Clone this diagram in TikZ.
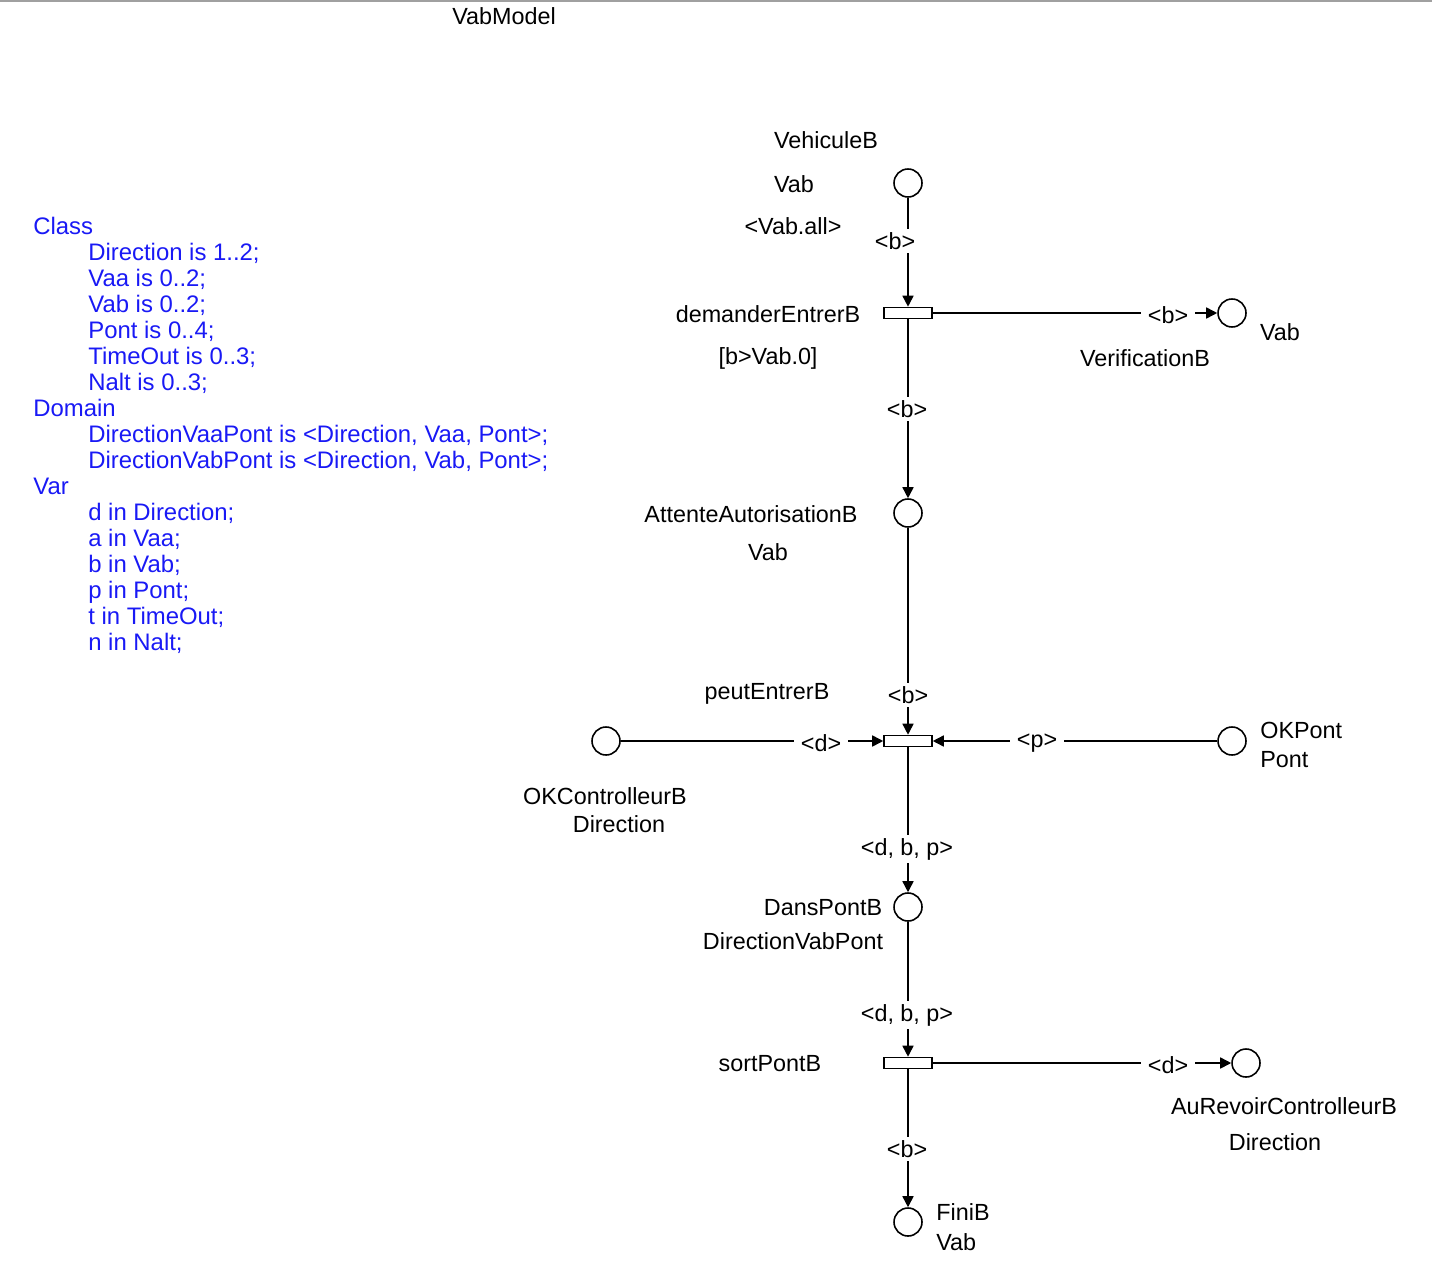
\documentclass[tikz,border=0pt]{standalone}
\usepackage{fontspec}
\setmainfont{Liberation Sans}
\usetikzlibrary{arrows.meta}

\definecolor{decl}{RGB}{25,25,245}
\definecolor{topline}{RGB}{160,160,160}

\tikzset{
	place/.style={circle,draw,line width=0.9pt,minimum size=0.56cm,inner sep=0pt},
	trans/.style={rectangle,draw,line width=0.9pt,minimum width=0.96cm,minimum height=0.22cm,inner sep=0pt},
	arc/.style={line width=0.9pt,-{Triangle[length=0.22cm,width=0.22cm]}},
	arclab/.style={fill=white,inner xsep=4pt,inner ysep=2pt},
	txt/.style={inner sep=0pt}
}

\begin{document}
\begin{tikzpicture}[x=0.02cm,y=-0.02cm,font=\fontsize{13.3}{15}\selectfont]
		\useasboundingbox (0,0) rectangle (1432,1270);
		\draw[topline,line width=1.2pt] (0,1) -- (1432,1) ;

		\node[txt] (title) at (504,16) {VabModel};

		% places
		\node[place] (vehic)  at ( 908, 183) {};
		\node[place] (verif)  at (1232, 313) {};
		\node[place] (attente) at ( 908, 513) {};
		\node[place] (okctrl) at ( 606, 741) {};
		\node[place] (okpont) at (1232, 741) {};
		\node[place] (dans)   at ( 908, 907) {};
		\node[place] (aurev)  at (1246,1063) {};
		\node[place] (fini)   at ( 908,1222) {};

		% transitions
		\node[trans] (demander) at (908, 313) {};
		\node[trans] (peut)     at (908, 741) {};
		\node[trans] (sort)     at (908,1063) {};

		% place and transition texts
		\node[txt] at (826, 140) {VehiculeB};
		\node[txt] at (794, 184) {Vab};
		\node[txt] at (793, 226) {<Vab.all>};
		\node[txt] at (768, 314) {demanderEntrerB};
		\node[txt] at (768, 358) {[b>Vab.0]};
		\node[txt] at (1280, 332) {Vab};
		\node[txt] at (1145, 358) {VerificationB};
		\node[txt] at (751, 514) {AttenteAutorisationB};
		\node[txt] at (768, 552) {Vab};
		\node[txt] at (767, 694) {peutEntrerB};
		\node[txt] at (605, 796) {OKControlleurB};
		\node[txt] at (619, 824) {Direction};
		\node[txt,anchor=west] at (1260, 730) {OKPont};
		\node[txt,anchor=west] at (1260, 760) {Pont};
		\node[txt] at (823, 908) {DansPontB};
		\node[txt] at (793, 941) {DirectionVabPont};
		\node[txt] at (770,1064) {sortPontB};
		\node[txt] at (1284,1106) {AuRevoirControlleurB};
		\node[txt] at (1275,1142) {Direction};
		\node[txt,anchor=west] at (936,1212) {FiniB};
		\node[txt,anchor=west] at (936,1242) {Vab};

		% arcs
		\draw[arc] (vehic) -- (demander);
		\draw[arc] (demander) -- (verif);
		\draw[arc] (demander) -- (attente);
		\draw[arc] (attente) -- (peut);
		\draw[arc] (okctrl) -- (peut);
		\draw[arc] (okpont) -- (peut);
		\draw[arc] (peut) -- (dans);
		\draw[arc] (dans) -- (sort);
		\draw[arc] (sort) -- (aurev);
		\draw[arc] (sort) -- (fini);

		% arc inscriptions
		\node[arclab] at ( 895, 241) {<b>};
		\node[arclab] at (1168, 315) {<b>};
		\node[arclab] at ( 907, 409) {<b>};
		\node[arclab] at ( 908, 695) {<b>};
		\node[arclab] at ( 821, 743) {<d>};
		\node[arclab] at (1037, 743) {<p>};
		\node[arclab] at ( 907, 849) {<d, b, p>};
		\node[arclab] at ( 907,1015) {<d, b, p>};
		\node[arclab] at (1168,1065) {<d>};
		\node[arclab] at ( 907,1149) {<b>};

		% declarations
		\node[txt,decl,anchor=north west,align=left,font=\fontsize{13.6}{14.8}\selectfont] (decls) at (33, 217) {%
			Class\\
			\hspace*{1.1cm}Direction is 1..2;\\
			\hspace*{1.1cm}Vaa is 0..2;\\
			\hspace*{1.1cm}Vab is 0..2;\\
			\hspace*{1.1cm}Pont is 0..4;\\
			\hspace*{1.1cm}TimeOut is 0..3;\\
			\hspace*{1.1cm}Nalt is 0..3;\\
			Domain\\
			\hspace*{1.1cm}DirectionVaaPont is <Direction, Vaa, Pont>;\\
			\hspace*{1.1cm}DirectionVabPont is <Direction, Vab, Pont>;\\
			Var\\
			\hspace*{1.1cm}d in Direction;\\
			\hspace*{1.1cm}a in Vaa;\\
			\hspace*{1.1cm}b in Vab;\\
			\hspace*{1.1cm}p in Pont;\\
			\hspace*{1.1cm}t in TimeOut;\\
			\hspace*{1.1cm}n in Nalt;};
\end{tikzpicture}
\end{document}
